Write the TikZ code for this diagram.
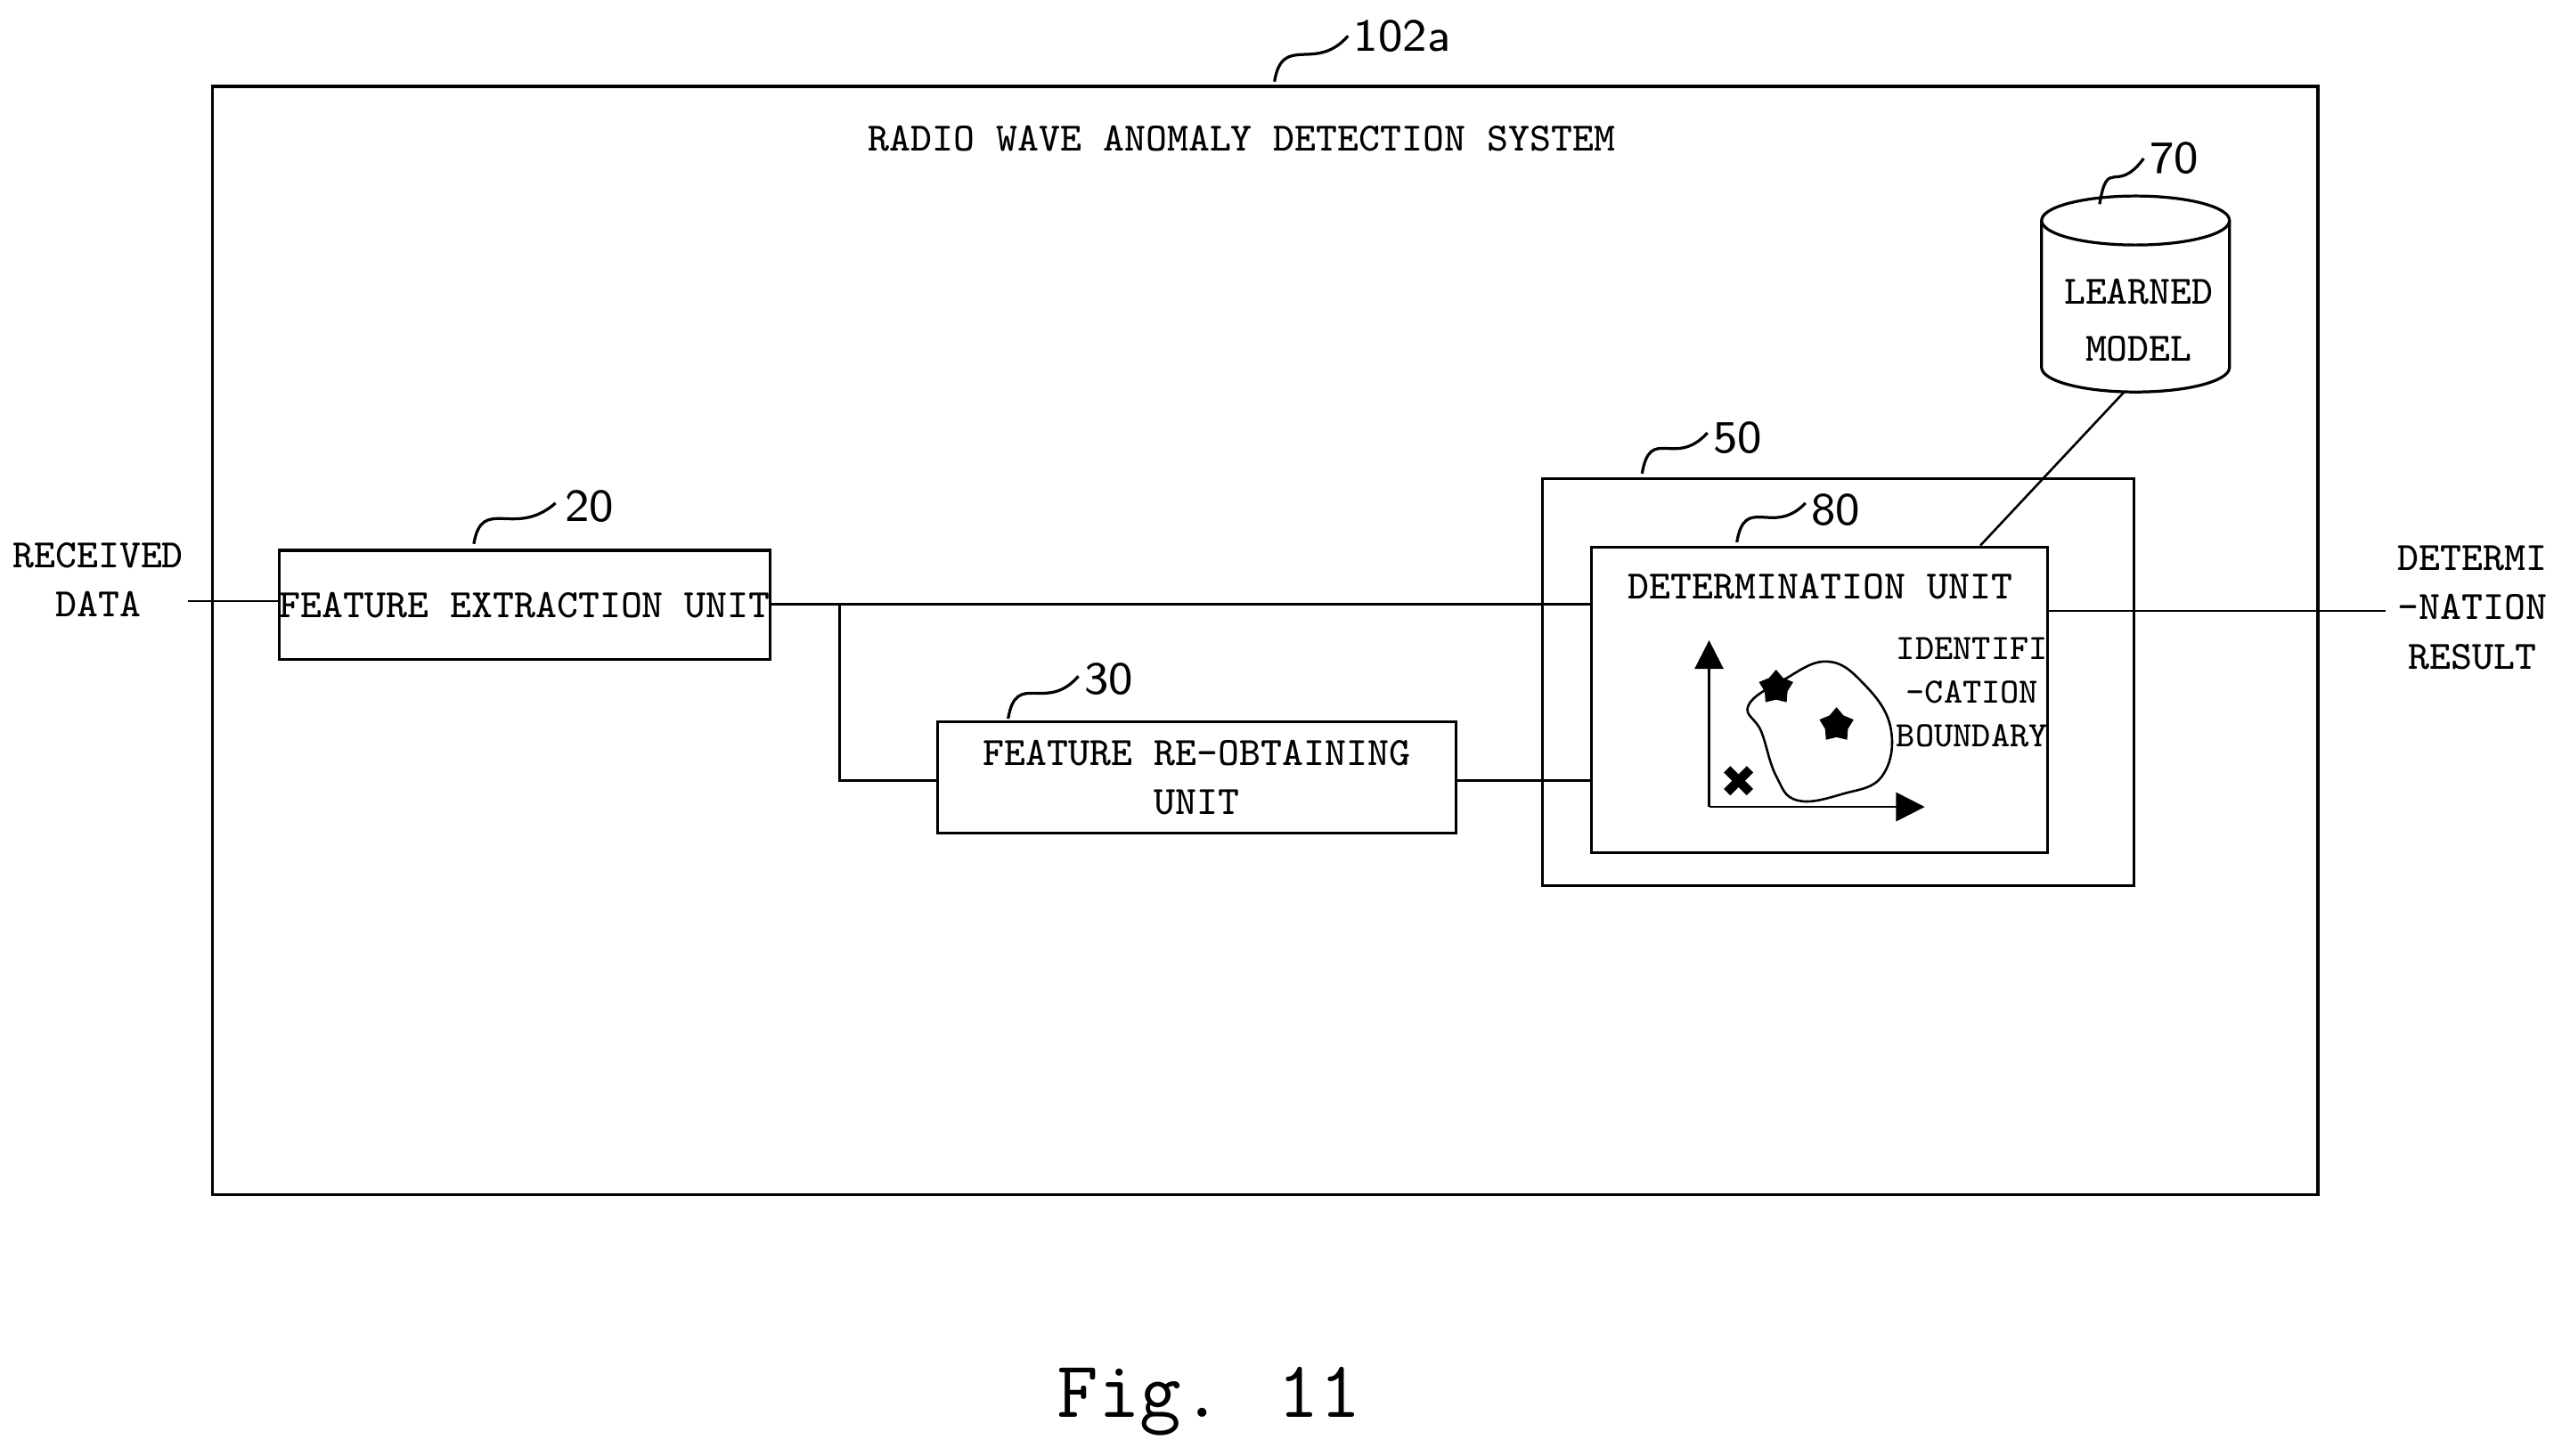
\documentclass[tikz,border=0pt]{standalone}
\usetikzlibrary{shapes.geometric,shapes.symbols,arrows.meta}
\begin{document}
\begin{tikzpicture}[x=0.01cm,y=-0.01cm,
  t/.style={font=\fontsize{7}{8.6}\selectfont\ttfamily,align=center,inner sep=0},
  lbl/.style={font=\fontsize{8}{9}\selectfont\sffamily,inner sep=0,anchor=west},
  bx/.style={draw,line width=0.5pt},
  sq/.style={line width=0.5pt}]
\useasboundingbox (0,0) rectangle (1568,891);
% outer
\node[bx,minimum width=12.88cm,minimum height=6.78cm,anchor=north west] (sys) at (129,52) {};
\node[t] (title) at (760,85) {RADIO WAVE ANOMALY DETECTION SYSTEM};
\coordinate (s1) at (780,50); \coordinate (s1e) at (825,22);
\draw[sq] (s1) .. controls (785,20) and (805,45) .. (s1e);
\node[lbl] (l102) at (828,22) {102a};
% received
\node[t] (rd) at (60,355) {RECEIVED\\DATA};
\node[bx,t,minimum width=2.97cm,minimum height=0.67cm,anchor=north west] (fe) at (170,336) {FEATURE EXTRACTION UNIT};
\coordinate (in) at (115,368);
\draw (in) -- (in -| fe.west);
\draw[sq] (290,333) .. controls (295,303) and (315,330) .. (340,308);
\node[lbl] (l20) at (345,310) {20};
% feature re-obtaining
\node[bx,t,minimum width=3.17cm,minimum height=0.68cm,anchor=north west] (fr) at (573,441) {FEATURE RE-OBTAINING\\UNIT};
\draw[sq] (617,440) .. controls (622,410) and (640,437) .. (660,414);
\node[lbl] (l30) at (663,416) {30};
% 50 and 80
\node[bx,minimum width=3.62cm,minimum height=2.49cm,anchor=north west] (b50) at (943,292) {};
\draw[sq] (1005,290) .. controls (1010,260) and (1025,287) .. (1045,265);
\node[lbl] (l50) at (1048,268) {50};
\node[bx,minimum width=2.79cm,minimum height=1.87cm,anchor=north west] (b80) at (973,334) {};
\node[t] (dt) at (1114,359) {DETERMINATION UNIT};
\draw[sq] (1063,332) .. controls (1068,302) and (1085,329) .. (1105,308);
\node[lbl] (l80) at (1108,312) {80};
% connections
\coordinate (br) at (514,370);
\draw (fe.east |- br) -- (br -| b80.west);
\coordinate (br2) at (514,478);
\draw (br) -- (br2) -- (br2 -| fr.west);
\draw (fr.east |- br2) -- (br2 -| b80.west);
\coordinate (out) at (1460,374);
\draw (out -| b80.east) -- (out);
\node[t] (res) at (1513,372) {DETERMI\\-NATION\\RESULT};
% cylinder
\draw[line width=0.5pt] (1307,135) ellipse [x radius=57.5, y radius=15];
\draw[line width=0.5pt] (1249.5,135) -- (1249.5,225) arc[start angle=180,end angle=0,x radius=57.5,y radius=15] -- (1364.5,135);
\node[t,font=\fontsize{7}{10}\selectfont\ttfamily] (dbt) at (1309,196) {LEARNED\\MODEL};
\draw[sq] (1285,125) .. controls (1290,95) and (1295,120) .. (1312,97);
\node[lbl] (l70) at (1315,97) {70};
\draw (1212,334) -- (1300,240);
% plot
\coordinate (o) at (1046,494);
\coordinate (ya) at (1046,392);
\coordinate (xa) at (1178,494);
\draw[-{Triangle[length=5pt,width=5pt]}] (o) -- (ya);
\draw[-{Triangle[length=5pt,width=5pt]}] (o) -- (xa);
\draw[line width=0.4pt] plot[smooth cycle,tension=0.7] coordinates {(1070,432)(1092,416)(1118,405)(1140,418)(1157,445)(1152,475)(1128,486)(1100,490)(1087,475)(1078,448)};
\node[star,star points=5,fill,minimum size=0.22cm,inner sep=0] (st1) at (1087,421) {};
\node[star,star points=5,fill,minimum size=0.22cm,inner sep=0] (st2) at (1124,444) {};
\draw[line width=1.6pt] (1057,471) -- (1071,485) (1071,471) -- (1057,485);
\node[t,font=\fontsize{6.2}{7.6}\selectfont\ttfamily] (ib) at (1207,424) {IDENTIFI\\-CATION\\BOUNDARY};
% caption
\node[font=\fontsize{14}{16}\selectfont\ttfamily] (fig) at (740,858) {Fig. 11};
\end{tikzpicture}
\end{document}
